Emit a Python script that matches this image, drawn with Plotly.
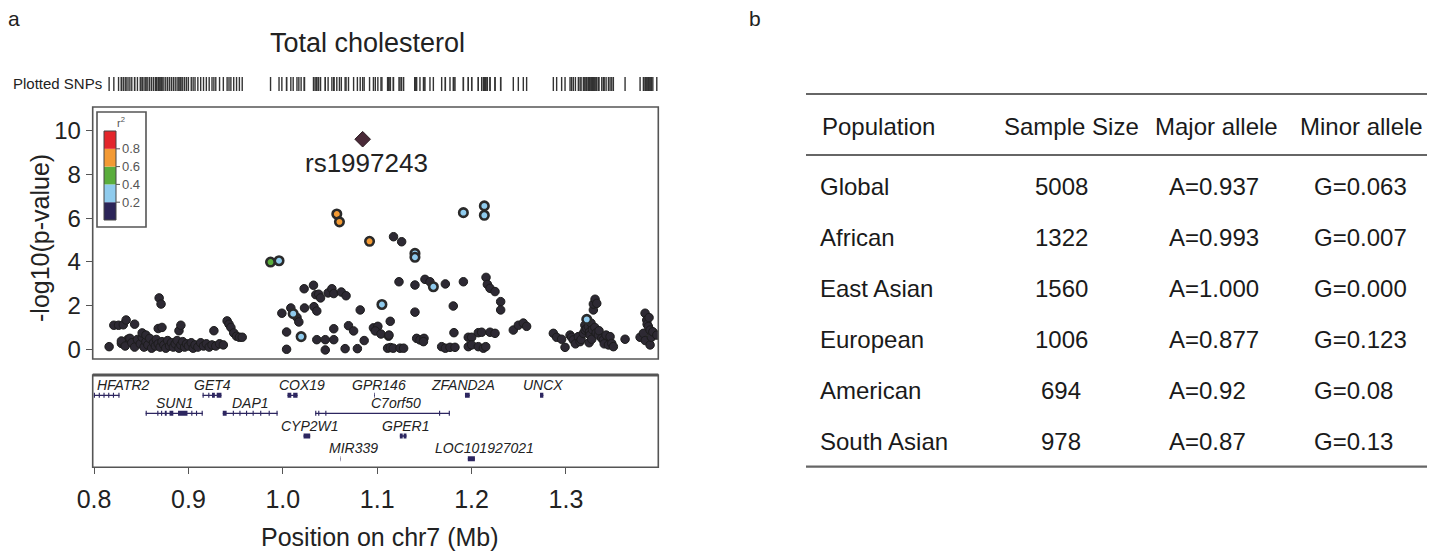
import plotly.graph_objects as go

# The page body adds an 8px offset; the figure is sized so that window
# coordinates line up with the reference picture.
WIN_W, WIN_H = 1442, 554
OFF = 8
W, H = WIN_W - OFF, WIN_H - OFF
FONT = "Liberation Sans, Arial, sans-serif"

# ---------------- data ----------------
# SNPs with r^2 < 0.2 to the lead SNP
BG_POS = [
    0.816, 0.821, 0.826, 0.831, 0.834, 0.836, 0.829, 0.843, 0.829, 0.833,
    0.838, 0.840, 0.843, 0.846, 0.849, 0.851, 0.851, 0.853, 0.855, 0.855,
    0.857, 0.859, 0.861, 0.863, 0.865, 0.866, 0.868, 0.868, 0.869, 0.871,
    0.872, 0.870, 0.872, 0.874, 0.876, 0.878, 0.880, 0.882, 0.884, 0.886,
    0.888, 0.890, 0.890, 0.892, 0.892, 0.894, 0.896, 0.898, 0.900, 0.903,
    0.905, 0.907, 0.910, 0.913, 0.916, 0.919, 0.922, 0.925, 0.927, 0.929,
    0.933, 0.937, 0.941, 0.943, 0.945, 0.948, 0.951, 0.954, 0.957,
    0.999, 1.004, 1.004, 1.0085, 1.015, 1.017, 1.0226, 1.023, 1.0325, 1.033,
    1.035, 1.036, 1.038, 1.040, 1.036, 1.045, 1.054, 1.045, 1.066, 1.079,
    1.048, 1.052, 1.054, 1.062, 1.067, 1.054, 1.0696, 1.075, 1.082, 1.0862,
    1.096, 1.1007, 1.098, 1.104, 1.112, 1.1138, 1.1173, 1.1231, 1.1259, 1.140,
    1.1506, 1.1559, 1.1722, 1.1913, 1.2153, 1.2167, 1.2195, 1.2248, 1.2308, 1.2308,
    1.140, 1.1806, 1.1125, 1.1813, 1.1965, 1.2001, 1.2071, 1.2107, 1.2195, 1.2248,
    1.111, 1.114, 1.117, 1.1242, 1.128, 1.1418, 1.1453, 1.1496, 1.149, 1.1683,
    1.1722, 1.1771, 1.1824, 1.1965, 1.2001, 1.2071, 1.2125, 1.215,
    1.2442, 1.2495, 1.2548, 1.2583,
    1.2866, 1.2901, 1.2954, 1.299, 1.3043, 1.306, 1.3078, 1.310, 1.3131, 1.3149,
    1.316, 1.3184, 1.320, 1.3202, 1.322, 1.3237, 1.3245, 1.325, 1.3255, 1.3265,
    1.3273, 1.328, 1.329, 1.329, 1.3305, 1.3308, 1.3326, 1.332, 1.3343, 1.335,
    1.3379, 1.3396, 1.3405, 1.3425, 1.345, 1.3467, 1.3485, 1.3502, 1.3626, 1.3785,
    1.382, 1.384, 1.3838, 1.3856, 1.386, 1.3873, 1.388, 1.3891, 1.3891, 1.3905,
    1.392, 1.3962,
]
BG_LOGP = [
    0.12, 1.10, 1.10, 1.12, 1.34, 0.46, 0.27, 1.15, 0.38, 0.15,
    0.50, 0.30, 0.10, 0.45, 0.25, 0.55, 0.75, 0.10, 0.35, 0.65,
    0.20, 0.50, 0.05, 0.30, 0.15, 0.45, 0.25, 0.95, 2.35, 2.07,
    1.00, 0.10, 0.35, 0.20, 0.05, 0.40, 0.15, 0.30, 0.10, 0.25,
    0.40, 0.05, 0.85, 1.10, 0.20, 0.35, 0.10, 0.25, 0.15, 0.30,
    0.05, 0.20, 0.10, 0.30, 0.15, 0.25, 0.10, 0.20, 0.85, 0.15,
    0.25, 0.20, 1.30, 1.15, 1.00, 0.75, 0.60, 0.55, 0.55,
    1.65, 0.79, 0.00, 1.89, 1.46, 1.25, 2.77, 1.89, 2.93, 1.95,
    2.50, 1.75, 2.52, 2.35, 0.44, 0.44, 0.44, -0.03, 0.03, 0.03,
    2.58, 2.77, 2.55, 2.62, 2.45, 0.94, 1.08, 0.84, 1.80, 0.40,
    0.98, 1.05, 0.84, 0.70, 0.60, 1.28, 5.15, 3.09, 4.92, 2.94,
    3.20, 3.09, 2.99, 3.09, 3.29, 2.97, 2.79, 2.64, 2.18, 1.80,
    1.70, 1.98, 0.65, 0.76, 0.55, 0.55, 0.76, 0.78, 0.78, 0.73,
    0.05, 0.08, 0.05, 0.05, 0.05, 0.50, 0.43, 0.50, 0.35, 0.12,
    0.05, 0.09, 0.09, 0.12, 0.20, 0.12, 0.05, 0.12,
    0.88, 1.10, 1.20, 1.05,
    0.73, 0.55, 0.46, 0.09, 0.65, 0.55, 0.43, 0.25, 0.58, 0.35,
    0.45, 0.73, 1.10, 0.88, 0.95, 1.04, 0.30, 0.80, 0.65, 1.20,
    0.46, 0.90, 1.80, 2.07, 1.00, 2.29, 2.10, 0.75, 0.65, 0.85,
    0.50, 0.43, 0.25, 0.65, 0.20, 0.58, 0.27, 0.12, 0.46, 0.55,
    0.73, 0.40, 1.65, 1.34, 1.15, 1.04, 1.45, 0.88, 0.20, 0.55,
    0.80, 0.65,
]
# SNPs with r^2 >= 0.2 to the lead SNP
LD_POS = [0.987, 0.996, 1.011, 1.0194, 1.0572, 1.060, 1.0919, 1.105,
          1.140, 1.140, 1.1595, 1.1913, 1.2135, 1.2135, 1.322]
LD_LOGP = [3.99, 4.05, 1.63, 0.58, 6.19, 5.83, 4.94, 2.05,
           4.39, 4.21, 2.86, 6.25, 6.56, 6.13, 1.37]
LD_R2 = [0.45, 0.30, 0.25, 0.25, 0.65, 0.65, 0.65, 0.30,
         0.25, 0.25, 0.30, 0.30, 0.30, 0.30, 0.30]

LEAD_SNP = "rs1997243"
LEAD_POS = 1.0846
LEAD_LOGP = 9.61

R2_BREAKS = [0.0, 0.2, 0.4, 0.6, 0.8, 1.0]
R2_COLORS = ["#2b2458", "#8fcbed", "#5aad3c", "#f39a34", "#e3262b"]
R2_TICKS = [0.2, 0.4, 0.6, 0.8]

X_TICKS = [0.8, 0.9, 1.0, 1.1, 1.2, 1.3]
Y_TICKS = [0, 2, 4, 6, 8, 10]
X_TITLE = "Position on chr7 (Mb)"
Y_TITLE = "-log10(p-value)"
PLOT_TITLE = "Total cholesterol"

GENE_NAMES = ["HFATR2", "GET4", "COX19", "GPR146", "ZFAND2A", "UNCX",
              "SUN1", "DAP1", "C7orf50", "CYP2W1", "GPER1", "MIR339",
              "LOC101927021"]
GENE_START = [0.7998, 0.915, 1.005, 1.0968, 1.193, 1.2725,
              0.8547, 0.9364, 1.0343, 1.022, 1.124, 1.061, 1.196]
GENE_END = [0.827, 0.935, 1.0156, 1.0975, 1.198, 1.276,
            0.9152, 0.9945, 1.177, 1.029, 1.131, 1.0614, 1.2035]
GENE_ROW = [1, 1, 1, 1, 1, 1, 2, 2, 2, 3, 3, 4, 4]
GENE_EXONS = [
    [(0.7998, 0.8010), (0.805, 0.8062), (0.810, 0.8112), (0.815, 0.8162), (0.820, 0.8212), (0.8258, 0.827)],
    [(0.915, 0.9162), (0.921, 0.9222), (0.925, 0.928), (0.930, 0.935)],
    [(1.005, 1.009), (1.011, 1.0156)],
    [(1.0968, 1.0975)],
    [(1.193, 1.198)],
    [(1.2725, 1.276)],
    [(0.8547, 0.8559), (0.867, 0.8682), (0.871, 0.8722), (0.875, 0.877), (0.880, 0.884),
     (0.889, 0.899), (0.903, 0.9042), (0.908, 0.9092), (0.914, 0.9152)],
    [(0.9364, 0.9405), (0.947, 0.9482), (0.954, 0.9552), (0.961, 0.9622), (0.968, 0.9692),
     (0.976, 0.9772), (0.985, 0.9862), (0.9933, 0.9945)],
    [(1.0343, 1.0355), (1.0375, 1.0387), (1.045, 1.0462), (1.1655, 1.1667), (1.1758, 1.177)],
    [(1.022, 1.029)],
    [(1.124, 1.127), (1.128, 1.131)],
    [(1.061, 1.0614)],
    [(1.196, 1.2035)],
]

TABLE_HEADER = ["Population", "Sample Size", "Major allele", "Minor allele"]
POPULATION = ["Global", "African", "East Asian", "European", "American", "South Asian"]
SAMPLE_SIZE = ["5008", "1322", "1560", "1006", "694", "978"]
MAJOR_ALLELE = ["A=0.937", "A=0.993", "A=1.000", "A=0.877", "A=0.92", "A=0.87"]
MINOR_ALLELE = ["G=0.063", "G=0.007", "G=0.000", "G=0.123", "G=0.08", "G=0.13"]

# ---------------- layout constants (window pixels) ----------------
PLOT_L, PLOT_R = 92.7, 658.3
MAIN_T, MAIN_B = 107, 359
GENE_T, GENE_B = 375, 467.3
RUG_T, RUG_B = 77, 91
X_RANGE = [0.7986, 1.3978]
Y_RANGE = [-0.444, 11.084]
ROW_LINE_Y = {1: 72.0, 2: 54.0, 3: 31.3, 4: 8.5}   # px above gene-panel bottom
LABEL_DY = 10.5
LABEL_XSHIFT = [0, 0, 9, 4, -4, 1, 0, 0, 13, 3, 2, 13, 13]  # label nudges (px)


def px(x):
    return (x - OFF) / W


def py(y):
    return 1 - (y - OFF) / H


def r2_color(v):
    for i in range(len(R2_COLORS)):
        if R2_BREAKS[i] <= v < R2_BREAKS[i + 1] or (i == len(R2_COLORS) - 1 and v >= R2_BREAKS[-1]):
            return R2_COLORS[i]
    return R2_COLORS[0]


fig = go.Figure()

# background SNPs
fig.add_trace(go.Scatter(
    x=BG_POS, y=BG_LOGP, mode="markers", xaxis="x", yaxis="y",
    marker=dict(size=8.5, color="#2d2933", line=dict(width=1, color="#1c1c1c")),
    hoverinfo="x+y", showlegend=False))
# LD SNPs
fig.add_trace(go.Scatter(
    x=LD_POS, y=LD_LOGP, mode="markers", xaxis="x", yaxis="y",
    marker=dict(size=8.5, color=[r2_color(v) for v in LD_R2],
                line=dict(width=2.6, color="#2a2a2a")),
    showlegend=False))
# lead SNP
fig.add_trace(go.Scatter(
    x=[LEAD_POS], y=[LEAD_LOGP], mode="markers", xaxis="x", yaxis="y",
    marker=dict(size=12, symbol="diamond", color="#4a2a38", line=dict(width=1, color="#2a1a20")),
    showlegend=False))

# rug of plotted SNPs
all_pos = BG_POS + LD_POS + [LEAD_POS]
fig.add_trace(go.Scatter(
    x=all_pos, y=[0.5] * len(all_pos), mode="markers", xaxis="x", yaxis="y3",
    marker=dict(symbol="line-ns", size=14, line=dict(width=1.4, color="#333333")),
    hoverinfo="skip", showlegend=False))

# genes
gx, gy, ex, ey = [], [], [], []
for name, s, e, r, exons in zip(GENE_NAMES, GENE_START, GENE_END, GENE_ROW, GENE_EXONS):
    yy = ROW_LINE_Y[r]
    gx += [s, e, None]
    gy += [yy, yy, None]
    for a, b in exons:
        ex += [a, b, None]
        ey += [yy, yy, None]
fig.add_trace(go.Scatter(x=gx, y=gy, mode="lines", xaxis="x", yaxis="y2",
                         line=dict(color="#2d2660", width=1.3), hoverinfo="skip", showlegend=False))
fig.add_trace(go.Scatter(x=ex, y=ey, mode="lines", xaxis="x", yaxis="y2",
                         line=dict(color="#2d2660", width=5), hoverinfo="skip", showlegend=False))

annotations = []
mb_per_px = (X_RANGE[1] - X_RANGE[0]) / (PLOT_R - PLOT_L)
for name, s, e, r, dx in zip(GENE_NAMES, GENE_START, GENE_END, GENE_ROW, LABEL_XSHIFT):
    mid = (s + e) / 2
    half = len(name) * 0.62 * 14 / 2 * mb_per_px
    if mid - half < X_RANGE[0]:
        xa, xanchor = X_RANGE[0] + 2 * mb_per_px, "left"
    else:
        xa, xanchor = mid, "center"
    annotations.append(dict(
        x=xa, y=ROW_LINE_Y[r] + LABEL_DY, xref="x", yref="y2", text="<i>%s</i>" % name,
        showarrow=False, xanchor=xanchor, yanchor="middle", xshift=dx,
        font=dict(family=FONT, size=14, color="#222222")))

# lead SNP label
annotations.append(dict(x=LEAD_POS, y=LEAD_LOGP, xref="x", yref="y", text=LEAD_SNP,
                        showarrow=False, yshift=-24, xshift=4, xanchor="center", yanchor="middle",
                        font=dict(family=FONT, size=26, color="#222222")))

# titles, axis titles and panel letters
annotations += [
    dict(x=px(367), y=py(43), xref="paper", yref="paper", text=PLOT_TITLE, showarrow=False,
         xanchor="center", yanchor="middle", font=dict(family=FONT, size=27, color="#222222")),
    dict(x=0.5, y=py(537), xref="x domain", yref="paper", text=X_TITLE, showarrow=False,
         xanchor="center", yanchor="middle", xshift=4,
         font=dict(family=FONT, size=25, color="#222222")),
    dict(x=px(40), y=py(238), xref="paper", yref="paper", text=Y_TITLE, showarrow=False,
         textangle=-90, xanchor="center", yanchor="middle",
         font=dict(family=FONT, size=25, color="#222222")),
    dict(x=px(104), y=py(84), xref="paper", yref="paper", text="Plotted SNPs", showarrow=False,
         xanchor="right", yanchor="middle", font=dict(family=FONT, size=15, color="#222222")),
    dict(x=px(14), y=py(18), xref="paper", yref="paper", text="a", showarrow=False,
         xanchor="center", yanchor="middle", font=dict(family=FONT, size=21, color="#222222")),
    dict(x=px(755), y=py(18), xref="paper", yref="paper", text="b", showarrow=False,
         xanchor="center", yanchor="middle", font=dict(family=FONT, size=21, color="#222222")),
]

shapes = [
    dict(type="rect", xref="x domain", yref="y domain", x0=0, x1=1, y0=0, y1=1,
         line=dict(color="#555555", width=1.6), layer="above"),
    dict(type="rect", xref="x domain", yref="y2 domain", x0=0, x1=1, y0=0, y1=1,
         line=dict(color="#555555", width=1.6), layer="above"),
    dict(type="line", xref="x domain", yref="y2 domain", x0=0, x1=1, y0=1, y1=1,
         line=dict(color="#555555", width=3), layer="above"),
]

# r^2 legend inside the plot
LEG_BOX = (97, 112, 146, 227)
BAR_X0, BAR_X1, BAR_TOP, BAR_BOT = 104, 116, 131, 220
shapes.append(dict(type="rect", xref="paper", yref="paper", x0=px(LEG_BOX[0]), x1=px(LEG_BOX[2]),
                   y0=py(LEG_BOX[3]), y1=py(LEG_BOX[1]), line=dict(color="#555555", width=1.6),
                   fillcolor="white", layer="above"))


def bar_y(v):
    return BAR_BOT - v * (BAR_BOT - BAR_TOP)


for i, c in enumerate(R2_COLORS):
    shapes.append(dict(type="rect", xref="paper", yref="paper", x0=px(BAR_X0), x1=px(BAR_X1),
                       y0=py(bar_y(R2_BREAKS[i])), y1=py(bar_y(R2_BREAKS[i + 1])),
                       line=dict(width=0), fillcolor=c, layer="above"))
shapes.append(dict(type="rect", xref="paper", yref="paper", x0=px(BAR_X0), x1=px(BAR_X1),
                   y0=py(BAR_BOT), y1=py(BAR_TOP), line=dict(color="#444444", width=1), layer="above"))
for t in R2_TICKS:
    shapes.append(dict(type="line", xref="paper", yref="paper", x0=px(BAR_X1), x1=px(BAR_X1 + 4),
                       y0=py(bar_y(t)), y1=py(bar_y(t)), line=dict(color="#555555", width=1),
                       layer="above"))
    annotations.append(dict(x=px(BAR_X1 + 4), y=py(bar_y(t)), xref="paper", yref="paper",
                            text="%.1f" % t, showarrow=False, xanchor="left", yanchor="middle",
                            font=dict(family=FONT, size=13, color="#555555")))
annotations.append(dict(x=px(121), y=py(122), xref="paper", yref="paper", text="r<sup>2</sup>",
                        showarrow=False, xanchor="center", yanchor="middle",
                        font=dict(family=FONT, size=11, color="#555555")))

# ---------------- table (panel b) ----------------
T_LEFT, T_RIGHT = 806, 1427
T_TOP, T_HEAD_LINE, T_BOTTOM = 94, 155, 466.7
HEAD_Y = 126.7
ROW_Y0, ROW_DY = 187, 50.8
COLS = [(820, "left"), (1071.7, "center"), (1216.7, "center"), (1361.7, "center")]
CELL_COLS = [(818, "left"), (1061, "center"), (1167, "left"), (1312, "left")]
for yline, wline in [(T_TOP, 2), (T_HEAD_LINE, 2.2), (T_BOTTOM, 2.2)]:
    shapes.append(dict(type="line", xref="paper", yref="paper", x0=px(T_LEFT), x1=px(T_RIGHT),
                       y0=py(yline), y1=py(yline), line=dict(color="#666666", width=wline)))
for (cx, anc), txt in zip(COLS, TABLE_HEADER):
    annotations.append(dict(x=px(cx), y=py(HEAD_Y), xref="paper", yref="paper", text=txt,
                            showarrow=False, xanchor=anc, yanchor="middle",
                            font=dict(family=FONT, size=24, color="#1a1a1a")))
for i, row in enumerate(zip(POPULATION, SAMPLE_SIZE, MAJOR_ALLELE, MINOR_ALLELE)):
    yrow = ROW_Y0 + i * ROW_DY
    for (cx, anc), txt in zip(CELL_COLS, row):
        annotations.append(dict(x=px(cx), y=py(yrow), xref="paper", yref="paper", text=txt,
                                showarrow=False, xanchor=anc, yanchor="middle",
                                font=dict(family=FONT, size=24, color="#1a1a1a")))

fig.update_layout(
    width=W, height=H, margin=dict(l=0, r=0, t=0, b=0),
    paper_bgcolor="white", plot_bgcolor="white", showlegend=False,
    font=dict(family=FONT, color="#222222"),
    xaxis=dict(domain=[px(PLOT_L), px(PLOT_R)], range=X_RANGE, anchor="y2",
               tickvals=X_TICKS, ticktext=["%.1f" % v for v in X_TICKS],
               ticks="outside", ticklen=6, tickwidth=1.2, tickcolor="#555555",
               ticklabelstandoff=4,
               showgrid=False, zeroline=False, showline=False, automargin=False,
               tickfont=dict(family=FONT, size=25, color="#222222")),
    yaxis=dict(domain=[py(MAIN_B), py(MAIN_T)], range=Y_RANGE, anchor="x",
               tickvals=Y_TICKS, ticks="outside", ticklen=6, tickwidth=1.2, tickcolor="#555555",
               showgrid=False, zeroline=False, showline=False, automargin=False,
               tickfont=dict(family=FONT, size=24, color="#222222")),
    yaxis2=dict(domain=[py(GENE_B), py(GENE_T)], range=[0, GENE_B - GENE_T], anchor="x",
                visible=False, showgrid=False, zeroline=False, fixedrange=True),
    yaxis3=dict(domain=[py(RUG_B), py(RUG_T)], range=[0, 1], anchor="x",
                visible=False, showgrid=False, zeroline=False),
    annotations=annotations, shapes=shapes,
)

fig.write_html("out.html")
